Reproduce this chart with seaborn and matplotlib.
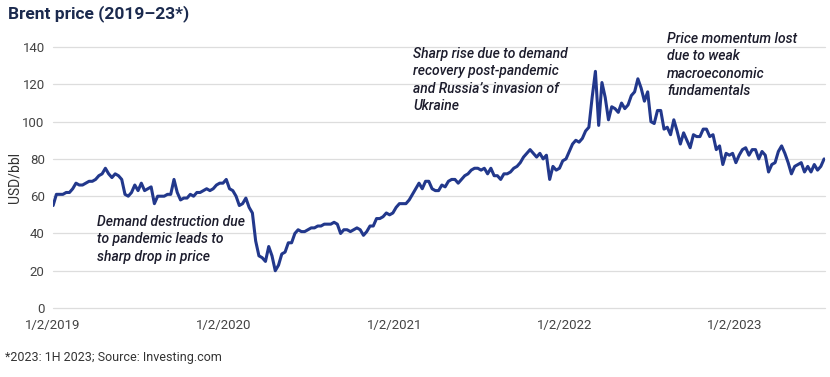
import pandas as pd
import matplotlib
matplotlib.use("Agg")
import matplotlib.pyplot as plt
import matplotlib.dates as mdates
from matplotlib.ticker import FuncFormatter
import seaborn as sns

sns.set_style("white")
plt.rcParams['font.family'] = ['Roboto', 'DejaVu Sans']

# weekly Brent closes (USD/bbl), one list per year
price_2019 = [55, 61, 61, 61, 62, 62, 64, 67, 66, 66, 67, 68, 68, 69, 71, 72, 75, 72,
              70, 72, 71, 69, 61, 60, 62, 66, 63, 67, 63, 64, 65, 56, 60, 60, 60, 61,
              61, 69, 62, 58, 59, 59, 61, 60, 62, 62, 63, 64, 63, 64, 66, 67]
price_2020 = [67, 69, 64, 63, 60, 55, 56, 59, 54, 51, 36, 28, 27, 25, 33, 28, 20, 23,
              29, 30, 35, 35, 40, 42, 41, 41, 42, 43, 43, 44, 44, 45, 45, 45, 46, 45,
              40, 42, 42, 41, 42, 43, 42, 39, 41, 44, 44, 48, 48, 49, 51, 50, 51]
price_2021 = [54, 56, 56, 56, 58, 61, 64, 67, 64, 68, 68, 64, 63, 63, 66, 65, 68, 69,
              69, 67, 69, 71, 72, 74, 75, 75, 74, 75, 72, 75, 71, 71, 69, 72, 72, 73,
              75, 76, 78, 81, 83, 85, 83, 81, 83, 80, 82, 69, 76, 74, 75, 79]
price_2022 = [80, 84, 88, 90, 89, 91, 95, 97, 113, 127, 98, 121, 113, 101, 108, 107, 105,
              110, 107, 109, 114, 116, 123, 118, 111, 116, 100, 99, 106, 106, 96, 97, 93,
              101, 95, 88, 94, 90, 86, 93, 92, 92, 96, 96, 92, 93, 85, 87, 77, 83, 82, 83]
price_2023 = [78, 82, 85, 86, 82, 85, 85, 80, 84, 82, 73, 77, 78, 84, 87, 83, 78, 72,
              76, 77, 78, 73, 76, 73, 77, 74, 76, 80]
year_starts = ['2019-01-02', '2020-01-01', '2021-01-06', '2022-01-05', '2023-01-04']

tick_dates = ['2019-01-02', '2020-01-02', '2021-01-02', '2022-01-02', '2023-01-02']
y_ticks = [0, 20, 40, 60, 80, 100, 120, 140]

frames = []
for start, vals in zip(year_starts, [price_2019, price_2020, price_2021, price_2022, price_2023]):
    frames.append(pd.DataFrame({'date': pd.date_range(start, periods=len(vals), freq='7D'),
                                'price': vals}))
brent = pd.concat(frames, ignore_index=True)

fig = plt.figure(figsize=(8.3, 3.77), dpi=100)
ax = fig.add_axes([0.064, 0.183, 0.93, 0.692])

sns.lineplot(data=brent, x='date', y='price', color='#22388c', linewidth=2.2, ax=ax)

ax.set_ylim(0, 140)
ax.set_xlim(pd.Timestamp('2019-01-02'), pd.Timestamp('2023-07-14'))
ax.set_yticks(y_ticks)
ax.set_xticks(pd.to_datetime(tick_dates))
ax.xaxis.set_major_formatter(FuncFormatter(
    lambda v, pos: (lambda d: f"{d.month}/{d.day}/{d.year}")(mdates.num2date(v))))

ax.yaxis.grid(True, color='#dddddd', linewidth=0.9)
ax.xaxis.grid(False)
for gl in ax.get_ygridlines():
    gl.set_clip_on(False)
sns.despine(ax=ax, left=True, bottom=True)
ax.tick_params(axis='both', length=0, labelsize=9.5, colors='#444444')
ax.tick_params(axis='x', pad=8)
ax.tick_params(axis='y', pad=6)
ax.set_xlabel('')
ax.set_ylabel('USD/bbl', fontsize=10, color='#333333', labelpad=1)

# annotations
note_style = dict(fontsize=10, style='italic', fontweight='medium', color='#1c1c2c',
                  va='top', ha='left', linespacing=1.3)
fig.text(97 / 830, 1 - 215 / 377, 'Demand destruction due\nto pandemic leads to\nsharp drop in price',
         **note_style)
fig.text(413 / 830, 1 - 47 / 377,
         'Sharp rise due to demand\nrecovery post-pandemic\nand Russia\u2019s invasion of\nUkraine',
         **note_style)
fig.text(667 / 830, 1 - 32 / 377, 'Price momentum lost\ndue to weak\nmacroeconomic\nfundamentals',
         **note_style)

fig.text(8 / 830, 1 - 14 / 377, 'Brent price (2019\u201323*)', fontsize=12.5, fontweight='bold',
         color='#1b2a4e', va='center', ha='left')
fig.text(5 / 830, 1 - 357 / 377, '*2023: 1H 2023; Source: Investing.com', fontsize=9,
         color='#333333', va='center', ha='left')

fig.savefig('out.png', dpi=100)
